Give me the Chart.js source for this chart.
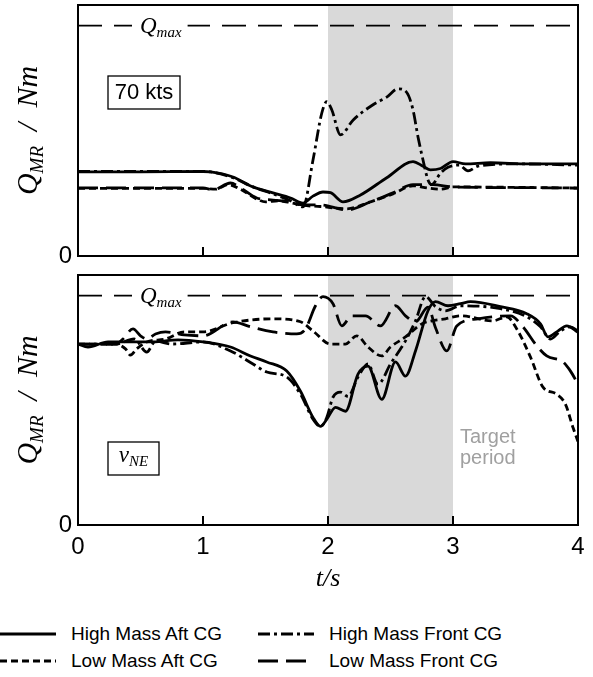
<!DOCTYPE html>
<html>
<head>
<meta charset="utf-8">
<script src="https://cdn.jsdelivr.net/npm/chart.js@4.4.0/dist/chart.umd.min.js"></script>
<style>
  body { margin: 0; background: #fff; }
  #page { position: relative; width: 593px; height: 677px; overflow: hidden; font-family: 'Liberation Sans', Arial, sans-serif; }
  #topWrap { position: absolute; left: 0; top: 0; width: 593px; height: 270px; }
  #botWrap { position: absolute; left: 0; top: 268px; width: 593px; height: 327px; }
  #legend { position: absolute; left: 0; top: 621px; width: 593px; height: 56px; }
  .item { position: absolute; height: 26px; display: flex; align-items: center; font-size: 19px; color: #000; white-space: nowrap; }
  .item svg { margin-right: 15px; }
</style>
</head>
<body>
<div id="page">
  <div id="topWrap"><canvas id="topChart"></canvas></div>
  <div id="botWrap"><canvas id="botChart"></canvas></div>
  <div id="legend"></div>
</div>
<script>
// series (same order in both panels and in the legend)
const seriesNames = ['High Mass Aft CG', 'High Mass Front CG', 'Low Mass Aft CG', 'Low Mass Front CG'];
const seriesDash = [[], [12, 4, 3, 4], [7, 4], [20, 8]];

const qMax = 1;          // torque limit, y values are Q / Qmax
const yTop = 1.09;
const targetStart = 2;   // target period in s
const targetEnd = 3;

// ---- 70 kts panel ----
const t70HmAft = [0, 0.5, 1.0, 1.06, 1.24, 1.4, 1.56, 1.7, 1.8, 1.88, 1.96, 2.02, 2.12, 2.26, 2.47, 2.68, 2.76, 2.82, 2.9, 3.0, 3.1, 3.3, 3.6, 4.0];
const q70HmAft = [0.365, 0.365, 0.367, 0.365, 0.343, 0.30, 0.274, 0.252, 0.23, 0.26, 0.278, 0.275, 0.235, 0.265, 0.34, 0.41, 0.39, 0.374, 0.38, 0.41, 0.40, 0.405, 0.40, 0.40];

const t70HmFront = [0, 1.0, 1.06, 1.24, 1.4, 1.56, 1.7, 1.8, 1.88, 1.95, 1.99, 2.03, 2.1, 2.2, 2.36, 2.47, 2.56, 2.63, 2.68, 2.72, 2.76, 2.8, 2.83, 2.9, 2.96, 3.05, 3.12, 3.2, 3.5, 4.0];
const q70HmFront = [0.367, 0.367, 0.365, 0.34, 0.30, 0.27, 0.24, 0.213, 0.417, 0.62, 0.67, 0.635, 0.526, 0.59, 0.657, 0.69, 0.726, 0.71, 0.635, 0.517, 0.417, 0.33, 0.31, 0.36, 0.385, 0.395, 0.37, 0.39, 0.40, 0.395];

const t70LmAft = [0, 1.0, 1.1, 1.2, 1.3, 1.42, 1.5, 1.6, 1.7, 1.8, 1.94, 2.15, 2.34, 2.52, 2.68, 2.8, 2.9, 3.0, 3.5, 4.0];
const q70LmAft = [0.294, 0.294, 0.29, 0.31, 0.29, 0.25, 0.235, 0.24, 0.232, 0.22, 0.215, 0.205, 0.235, 0.27, 0.305, 0.295, 0.29, 0.30, 0.298, 0.295];

const t70LmFront = [0, 1.0, 1.08, 1.22, 1.3, 1.43, 1.56, 1.7, 1.8, 1.94, 2.15, 2.34, 2.52, 2.68, 2.84, 3.0, 3.5, 4.0];
const q70LmFront = [0.296, 0.296, 0.287, 0.317, 0.296, 0.252, 0.243, 0.235, 0.222, 0.222, 0.20, 0.235, 0.274, 0.31, 0.31, 0.30, 0.297, 0.295];

// ---- vNE panel ----
const tNeHmAft = [0, 0.08, 0.24, 0.4, 0.6, 0.8, 1.0, 1.22, 1.38, 1.51, 1.67, 1.78, 1.88, 1.94, 1.99, 2.06, 2.14, 2.24, 2.32, 2.43, 2.54, 2.62, 2.7, 2.8, 2.86, 2.96, 3.06, 3.14, 3.38, 3.59, 3.7, 3.76, 3.83, 3.91, 4.0];
const qNeHmAft = [0.789, 0.776, 0.798, 0.798, 0.798, 0.807, 0.798, 0.776, 0.737, 0.711, 0.671, 0.583, 0.469, 0.430, 0.461, 0.513, 0.496, 0.658, 0.693, 0.548, 0.711, 0.649, 0.759, 0.934, 0.974, 0.956, 0.965, 0.974, 0.952, 0.921, 0.877, 0.820, 0.842, 0.868, 0.840];

const tNeHmFront = [0, 0.3, 0.45, 0.55, 0.62, 0.75, 1.0, 1.22, 1.4, 1.51, 1.67, 1.78, 1.88, 1.94, 1.99, 2.04, 2.1, 2.16, 2.24, 2.32, 2.4, 2.5, 2.62, 2.7, 2.78, 2.86, 2.94, 3.06, 3.38, 3.59, 3.7, 3.78, 3.86, 3.94, 4.0];
const qNeHmFront = [0.789, 0.789, 0.811, 0.754, 0.802, 0.789, 0.798, 0.759, 0.702, 0.667, 0.645, 0.570, 0.461, 0.430, 0.469, 0.557, 0.579, 0.561, 0.645, 0.702, 0.614, 0.702, 0.803, 0.890, 0.996, 0.952, 0.934, 0.956, 0.943, 0.908, 0.864, 0.811, 0.846, 0.864, 0.846];

const tNeLmAft = [0, 0.3, 0.38, 0.42, 0.47, 0.55, 0.7, 0.85, 1.0, 1.24, 1.56, 1.78, 1.88, 2.02, 2.14, 2.23, 2.32, 2.43, 2.5, 2.62, 2.75, 2.83, 2.94, 3.06, 3.32, 3.43, 3.51, 3.62, 3.72, 3.83, 3.9, 3.96, 4.0];
const qNeLmAft = [0.789, 0.789, 0.768, 0.741, 0.768, 0.798, 0.811, 0.842, 0.842, 0.882, 0.899, 0.886, 0.846, 0.789, 0.789, 0.825, 0.776, 0.737, 0.776, 0.820, 0.877, 0.890, 0.899, 0.912, 0.890, 0.908, 0.855, 0.732, 0.601, 0.570, 0.526, 0.425, 0.364];

const tNeLmFront = [0, 0.3, 0.36, 0.44, 0.5, 0.55, 0.62, 0.7, 0.85, 1.0, 1.24, 1.38, 1.56, 1.75, 1.82, 1.9, 1.96, 2.04, 2.11, 2.19, 2.3, 2.42, 2.54, 2.62, 2.7, 2.8, 2.86, 2.95, 3.03, 3.2, 3.46, 3.56, 3.67, 3.75, 3.88, 3.94, 4.0];
const qNeLmFront = [0.789, 0.789, 0.811, 0.855, 0.825, 0.811, 0.833, 0.842, 0.829, 0.825, 0.886, 0.864, 0.842, 0.833, 0.855, 0.956, 0.996, 0.965, 0.868, 0.912, 0.912, 0.868, 0.956, 0.912, 0.886, 0.95, 0.86, 0.759, 0.868, 0.899, 0.912, 0.864, 0.781, 0.737, 0.711, 0.671, 0.614];

const xTicks = [0, 1, 2, 3, 4];

const serif = '"Liberation Serif", "DejaVu Serif", serif';
const sans = '"Liberation Sans", Arial, sans-serif';

function pts(t, q) {
  return t.map((x, i) => ({ x: x, y: q[i] }));
}

function makeSets(groups) {
  return groups.map((g, i) => ({
    label: seriesNames[i],
    data: pts(g[0], g[1]),
    borderColor: '#000',
    borderWidth: 2.8,
    borderDash: seriesDash[i],
    pointRadius: 0,
    fill: false,
    cubicInterpolationMode: 'monotone'
  }));
}

// text made of pieces (for subscripts)
function partsWidth(ctx, parts) {
  let w = 0;
  parts.forEach(p => { ctx.font = p.f; w += ctx.measureText(p.t).width; });
  return w;
}
function drawParts(ctx, parts, x, y) {
  ctx.textBaseline = 'alphabetic';
  ctx.textAlign = 'left';
  parts.forEach(p => {
    ctx.font = p.f;
    ctx.fillText(p.t, x, y + (p.dy || 0));
    x += ctx.measureText(p.t).width;
  });
}

const panelPlugin = {
  id: 'panel',
  beforeDatasetsDraw(chart, args, opts) {
    const ctx = chart.ctx, a = chart.chartArea;
    const xs = chart.scales.x, ys = chart.scales.y;
    ctx.save();
    const x0 = xs.getPixelForValue(targetStart), x1 = xs.getPixelForValue(targetEnd);
    ctx.fillStyle = '#d9d9d9';
    ctx.fillRect(x0, a.top, x1 - x0, a.bottom - a.top);

    const yq = ys.getPixelForValue(qMax);
    ctx.strokeStyle = '#000';
    ctx.lineWidth = 1.8;
    ctx.setLineDash([24, 12]);
    ctx.beginPath();
    ctx.moveTo(a.left, yq);
    ctx.lineTo(a.right, yq);
    ctx.stroke();
    ctx.setLineDash([]);

    const qParts = [
      { t: 'Q', f: 'italic 23px ' + serif },
      { t: 'max', f: 'italic 15px ' + serif, dy: 4 }
    ];
    const lx = a.left + 62;
    const w = partsWidth(ctx, qParts);
    ctx.fillStyle = '#fff';
    ctx.fillRect(lx - 8, yq - 3, w + 14, 6);
    ctx.fillStyle = '#000';
    drawParts(ctx, qParts, lx, yq + 7);
    ctx.restore();
  },
  afterDatasetsDraw(chart, args, opts) {
    const ctx = chart.ctx, a = chart.chartArea;
    const xs = chart.scales.x;
    ctx.save();
    // frame
    ctx.strokeStyle = '#000';
    ctx.lineWidth = 2;
    ctx.strokeRect(a.left, a.top, a.right - a.left, a.bottom - a.top);
    // inward ticks
    xTicks.slice(1, -1).forEach(v => {
      const px = xs.getPixelForValue(v);
      ctx.beginPath();
      ctx.moveTo(px, a.bottom);
      ctx.lineTo(px, a.bottom - 9);
      ctx.stroke();
    });
    // boxed case label
    const bx = a.left + 30, by = a.top + opts.boxTop;
    ctx.lineWidth = 1.3;
    ctx.strokeRect(bx, by, opts.boxW, 33);
    ctx.fillStyle = '#000';
    if (opts.box === '70 kts') {
      ctx.font = '22px ' + sans;
      ctx.textAlign = 'center';
      ctx.textBaseline = 'middle';
      ctx.fillText('70 kts', bx + opts.boxW / 2, by + 17);
    } else {
      const vParts = [
        { t: 'v', f: 'italic 23px ' + serif },
        { t: 'NE', f: 'italic 15px ' + serif, dy: 4 }
      ];
      const w = partsWidth(ctx, vParts);
      drawParts(ctx, vParts, bx + (opts.boxW - w) / 2, by + 20);
    }
    // target period note
    if (opts.note) {
      ctx.fillStyle = '#a0a0a0';
      ctx.font = '20px ' + sans;
      ctx.textAlign = 'left';
      ctx.textBaseline = 'middle';
      const nx = xs.getPixelForValue(targetEnd) + 7;
      ctx.fillText('Target', nx, a.top + 162);
      ctx.fillText('period', nx, a.top + 183);
    }
    // y axis title  Q_MR / Nm
    const yParts = [
      { t: 'Q', f: 'italic 30px ' + serif },
      { t: 'MR', f: 'italic 19px ' + serif, dy: 6 },
      { t: '  /  ', f: 'italic 30px ' + serif },
      { t: 'Nm', f: 'italic 30px ' + serif }
    ];
    const tw = partsWidth(ctx, yParts);
    ctx.fillStyle = '#000';
    ctx.translate(37, (a.top + a.bottom) / 2);
    ctx.rotate(-Math.PI / 2);
    drawParts(ctx, yParts, -tw / 2, 0);
    ctx.restore();
  }
};

function yScale() {
  return {
    min: 0,
    max: yTop,
    afterBuildTicks: s => { s.ticks = [{ value: 0 }]; },
    afterFit: s => { s.width = 78; s.paddingTop = 0; s.paddingBottom = 0; },
    ticks: { color: '#000', font: { size: 24, family: sans }, padding: 6, callback: v => '0' },
    grid: { display: false, drawTicks: false },
    border: { display: false }
  };
}

const topChart = new Chart(document.getElementById('topChart'), {
  type: 'line',
  data: {
    datasets: makeSets([
      [t70HmAft, q70HmAft], [t70HmFront, q70HmFront],
      [t70LmAft, q70LmAft], [t70LmFront, q70LmFront]
    ])
  },
  options: {
    responsive: true,
    maintainAspectRatio: false,
    animation: false,
    layout: { padding: { left: 0, right: 15, top: 5, bottom: 14 } },
    scales: {
      x: { type: 'linear', min: 0, max: 4, display: false },
      y: yScale()
    },
    plugins: {
      legend: { display: false },
      tooltip: { enabled: false },
      panel: { box: '70 kts', boxTop: 71, boxW: 72 }
    }
  },
  plugins: [panelPlugin]
});

const botChart = new Chart(document.getElementById('botChart'), {
  type: 'line',
  data: {
    datasets: makeSets([
      [tNeHmAft, qNeHmAft], [tNeHmFront, qNeHmFront],
      [tNeLmAft, qNeLmAft], [tNeLmFront, qNeLmFront]
    ])
  },
  options: {
    responsive: true,
    maintainAspectRatio: false,
    animation: false,
    layout: { padding: { left: 0, right: 15, top: 7, bottom: 0 } },
    scales: {
      x: {
        type: 'linear', min: 0, max: 4,
        afterBuildTicks: s => { s.ticks = xTicks.map(v => ({ value: v })); },
        afterFit: s => { s.height = 70; },
        ticks: { color: '#000', font: { size: 24, family: sans }, padding: 8 },
        grid: { display: false, drawTicks: false },
        border: { display: false },
        title: { display: true, text: 't/s', color: '#000', font: { size: 26, family: serif, style: 'italic' }, padding: { top: 0, bottom: 0 } }
      },
      y: yScale()
    },
    plugins: {
      legend: { display: false },
      tooltip: { enabled: false },
      panel: { box: 'vNE', boxTop: 167, boxW: 51, note: true }
    }
  },
  plugins: [panelPlugin]
});

// legend, two columns
const legend = document.getElementById('legend');
seriesNames.forEach((name, i) => {
  const item = document.createElement('div');
  item.className = 'item';
  item.style.left = (i % 2 === 0 ? 0 : 258) + 'px';
  item.style.top = (Math.floor(i / 2) * 27) + 'px';
  const dash = seriesDash[i].length ? ' stroke-dasharray="' + seriesDash[i].join(' ') + '"' : '';
  item.innerHTML = '<svg width="56" height="10"><line x1="0" y1="5" x2="56" y2="5" stroke="#000" stroke-width="2.8"' + dash + '/></svg><span>' + name + '</span>';
  legend.appendChild(item);
});
</script>
</body>
</html>
